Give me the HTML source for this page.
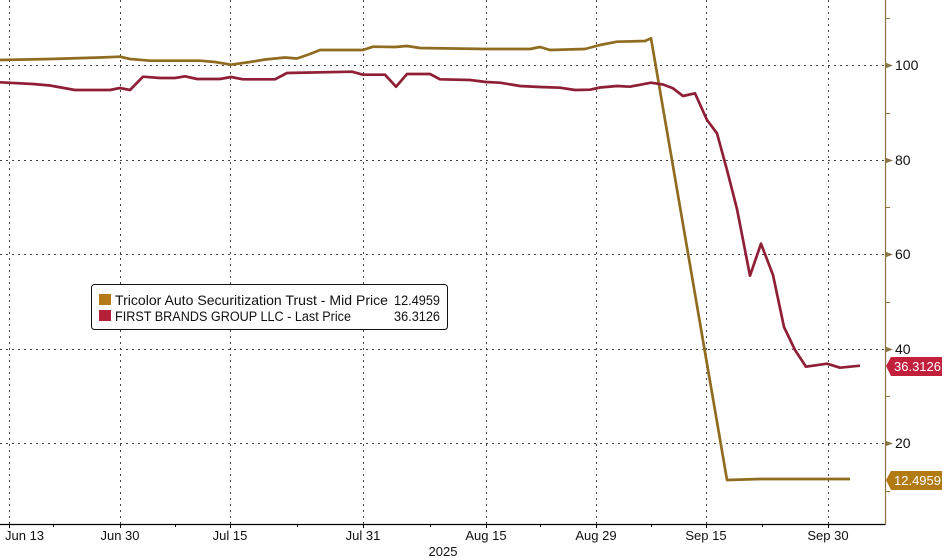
<!DOCTYPE html>
<html>
<head>
<meta charset="utf-8">
<style>
  html,body{margin:0;padding:0;background:#fff;}
  svg{display:block;}
  text{font-family:"Liberation Sans",sans-serif;}
</style>
</head>
<body>
<svg width="942" height="558" viewBox="0 0 942 558" xmlns="http://www.w3.org/2000/svg">
  <rect x="0" y="0" width="942" height="558" fill="#fff"/>
  <!-- horizontal gridlines -->
  <g stroke="#444" stroke-width="1" stroke-dasharray="2,4">
    <line x1="0" y1="65.5" x2="885" y2="65.5"/>
    <line x1="0" y1="160.5" x2="885" y2="160.5"/>
    <line x1="0" y1="254.5" x2="885" y2="254.5"/>
    <line x1="0" y1="349.5" x2="885" y2="349.5"/>
    <line x1="0" y1="443.5" x2="885" y2="443.5"/>
  </g>
  <!-- vertical gridlines -->
  <g stroke="#444" stroke-width="1" stroke-dasharray="2,4">
    <line x1="9.5" y1="0" x2="9.5" y2="524"/>
    <line x1="120.5" y1="0" x2="120.5" y2="524"/>
    <line x1="230.5" y1="0" x2="230.5" y2="524"/>
    <line x1="363.5" y1="0" x2="363.5" y2="524"/>
    <line x1="486.5" y1="0" x2="486.5" y2="524"/>
    <line x1="596.5" y1="0" x2="596.5" y2="524"/>
    <line x1="706.5" y1="0" x2="706.5" y2="524"/>
    <line x1="828.5" y1="0" x2="828.5" y2="524"/>
  </g>

  <!-- gold series -->
  <polyline fill="none" stroke="#8f6c20" stroke-width="2.7" stroke-linejoin="round"
    points="0,60 50,59 100,57.5 120,56.7 130,59 150,60.7 200,60.7 215,62 231,64.7 250,62 265,59.5 285,57.5 297,58.5 310,54 320,50 363,50 373,46.7 395,47 407,46 420,48 486,49 530,49 540,47 550,50 585,49 600,45 617,41.7 645,41 651,38.3 727,480 760,479 850,479"/>
  <!-- red series -->
  <polyline fill="none" stroke="#8f1f36" stroke-width="2.7" stroke-linejoin="round"
    points="0,82.3 33,84 50,85.5 75,90 110,90 120,88 130,90 143,76.7 160,78 175,78 185,76.3 197,79 220,79 231,77 243,79.3 275,79.3 287,73 352,71.7 363,74.7 385,74.7 396,86.7 407,74 430,74 440,79.3 470,80 486,82 500,82.7 520,86 540,87 560,87.7 575,90 590,89.7 600,87.5 617,86 630,86.7 651,82.7 663,84.5 673,88.3 683,96 695,93.3 707,120 717,133.3 727,170 737,209 750,275.7 761,243.7 773,275 784,327 795,350 806,366.7 827,363.7 840,367.7 860,365.7"/>

  <!-- x axis -->
  <line x1="0" y1="524.5" x2="886" y2="524.5" stroke="#000" stroke-width="1.2"/>
  <g stroke="#000" stroke-width="1">
    <line x1="9.5" y1="524" x2="9.5" y2="528"/>
    <line x1="53.5" y1="524" x2="53.5" y2="527"/>
    <line x1="120.5" y1="524" x2="120.5" y2="528"/>
    <line x1="175.5" y1="524" x2="175.5" y2="527"/>
    <line x1="230.5" y1="524" x2="230.5" y2="528"/>
    <line x1="297.5" y1="524" x2="297.5" y2="527"/>
    <line x1="363.5" y1="524" x2="363.5" y2="528"/>
    <line x1="430.5" y1="524" x2="430.5" y2="527"/>
    <line x1="486.5" y1="524" x2="486.5" y2="528"/>
    <line x1="540.5" y1="524" x2="540.5" y2="527"/>
    <line x1="596.5" y1="524" x2="596.5" y2="528"/>
    <line x1="651.5" y1="524" x2="651.5" y2="527"/>
    <line x1="706.5" y1="524" x2="706.5" y2="528"/>
    <line x1="762.5" y1="524" x2="762.5" y2="527"/>
    <line x1="828.5" y1="524" x2="828.5" y2="528"/>
  </g>
  <g font-size="13" fill="#111">
    <text x="5" y="540">Jun 13</text>
    <text x="120" y="540" text-anchor="middle">Jun 30</text>
    <text x="230" y="540" text-anchor="middle">Jul 15</text>
    <text x="363" y="540" text-anchor="middle">Jul 31</text>
    <text x="486" y="540" text-anchor="middle">Aug 15</text>
    <text x="596" y="540" text-anchor="middle">Aug 29</text>
    <text x="706" y="540" text-anchor="middle">Sep 15</text>
    <text x="828" y="540" text-anchor="middle">Sep 30</text>
    <text x="443" y="556" text-anchor="middle">2025</text>
  </g>

  <!-- right axis -->
  <line x1="885.5" y1="0" x2="885.5" y2="525" stroke="#8a7446" stroke-width="1.2"/>
  <g fill="#8a7446">
    <polygon points="885,62.5 893,65.5 885,68.5"/>
    <polygon points="885,157.5 893,160.5 885,163.5"/>
    <polygon points="885,251.5 893,254.5 885,257.5"/>
    <polygon points="885,346.5 893,349.5 885,352.5"/>
    <polygon points="885,440.5 893,443.5 885,446.5"/>
  </g>
  <g stroke="#8a7446" stroke-width="1">
    <line x1="885" y1="18.5" x2="890" y2="18.5"/>
    <line x1="885" y1="113.5" x2="890" y2="113.5"/>
    <line x1="885" y1="207.5" x2="890" y2="207.5"/>
    <line x1="885" y1="302.5" x2="890" y2="302.5"/>
    <line x1="885" y1="396.5" x2="890" y2="396.5"/>
    <line x1="885" y1="491.5" x2="890" y2="491.5"/>
  </g>
  <g font-size="14" fill="#111">
    <text x="895" y="70">100</text>
    <text x="895" y="165">80</text>
    <text x="895" y="259">60</text>
    <text x="895" y="354">40</text>
    <text x="895" y="448">20</text>
  </g>

  <!-- value badges -->
  <polygon points="886,366 891,357 942,357 942,376 891,376" fill="#c21f3c"/>
  <text x="941" y="371" font-size="13" fill="#fff" text-anchor="end">36.3126</text>
  <polygon points="886,480 891,471 942,471 942,490 891,490" fill="#b27a12"/>
  <text x="941" y="485" font-size="13" fill="#fff" text-anchor="end">12.4959</text>

  <!-- legend -->
  <rect x="91.5" y="284.5" width="356" height="45" rx="3" ry="3" fill="#fff" stroke="#111" stroke-width="1"/>
  <rect x="99" y="294" width="12" height="11" fill="#b5791a"/>
  <rect x="99" y="310" width="12" height="11" fill="#b51f37"/>
  <g font-size="14" fill="#111">
    <text x="115" y="305" textLength="273" lengthAdjust="spacingAndGlyphs">Tricolor Auto Securitization Trust - Mid Price</text>
    <text x="394" y="305" textLength="46" lengthAdjust="spacingAndGlyphs">12.4959</text>
    <text x="115" y="321" font-size="13.5" textLength="236" lengthAdjust="spacingAndGlyphs">FIRST BRANDS GROUP LLC - Last Price</text>
    <text x="394" y="321" textLength="46" lengthAdjust="spacingAndGlyphs">36.3126</text>
  </g>
</svg>
</body>
</html>
